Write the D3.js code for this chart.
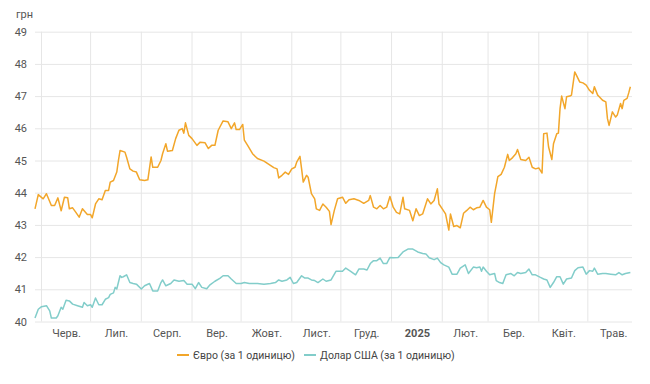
<!DOCTYPE html>
<html><head><meta charset="utf-8">
<script src="https://cdn.jsdelivr.net/npm/d3@7"></script>
<style>body{margin:0;background:#fff;} text{font-family:Roboto, "Noto Sans", sans-serif;}</style>
</head><body><svg id="c" width="650" height="384"></svg>
<script>
// ---- data ----
const startDate = "2024-05-28";
const endDate = "2025-05-28";
const unitLabel = "грн";
const monthLabels = ["Черв.","Лип.","Серп.","Вер.","Жовт.","Лист.","Груд.","2025","Лют.","Бер.","Квіт.","Трав."];
const yTicks = [40,41,42,43,44,45,46,47,48,49];
const seriesNames = ["Євро (за 1 одиницю)", "Долар США (за 1 одиницю)"];

// days since startDate
const euroDays = [0,2,5,7,10,12,14,16,18,20,21,23,25,27,29,32,34,35,37,39,41,43,45,46,48,50,51,52,55,56,58,60,62,64,67,69,71,72,75,77,78,80,81,84,86,88,90,91,92,94,96,99,101,104,106,108,110,112,115,118,120,122,123,125,127,128,130,133,136,140,143,146,148,149,151,153,155,157,159,160,162,163,164,166,167,169,171,172,174,176,178,180,181,183,185,188,190,192,195,198,201,204,205,207,209,211,213,215,217,219,221,223,225,226,229,231,233,235,237,240,242,244,246,247,249,251,253,254,256,258,260,262,264,266,268,270,272,274,276,278,279,281,283,285,287,289,290,292,294,295,297,300,302,304,306,308,310,311,313,314,316,317,319,320,321,322,324,325,327,328,330,331,333,335,337,339,341,342,344,345,347,349,350,351,353,355,356,358,359,360,362,363,364];
const euroValues = [43.50,43.94,43.81,43.97,43.60,43.60,43.84,43.44,43.86,43.84,43.50,43.53,43.39,43.24,43.50,43.32,43.32,43.22,43.65,43.81,43.78,44.07,44.07,44.33,44.38,44.64,45.00,45.31,45.26,45.10,44.74,44.67,44.64,44.40,44.38,44.40,45.11,44.79,44.79,45.00,45.21,45.52,45.29,45.31,45.68,45.94,45.99,45.85,46.17,45.78,45.68,45.47,45.57,45.55,45.37,45.47,45.47,45.94,46.23,46.20,45.99,46.17,45.96,45.96,46.12,45.63,45.47,45.21,45.06,44.98,44.88,44.78,44.74,44.46,44.54,44.64,44.57,44.74,44.79,44.95,45.13,44.74,44.33,44.54,44.48,43.97,43.81,43.50,43.45,43.65,43.55,43.42,43.01,43.45,43.81,43.86,43.67,43.78,43.81,43.76,43.67,43.76,43.91,43.55,43.50,43.60,43.50,43.55,43.88,43.55,43.39,43.34,43.86,43.50,43.45,43.13,43.50,43.29,43.34,43.81,43.65,43.76,44.12,43.65,43.50,43.34,42.84,43.34,42.95,42.98,42.91,43.36,43.45,43.55,43.47,43.53,43.55,43.76,43.55,43.47,43.08,43.97,44.50,44.57,44.79,45.19,45.00,45.09,45.21,45.34,45.03,45.00,45.10,44.79,44.74,44.77,44.61,45.83,45.85,45.42,45.03,45.52,45.83,45.85,46.61,47.00,46.61,46.98,47.00,47.03,47.75,47.65,47.44,47.41,47.34,47.18,47.08,47.29,47.03,46.98,46.87,46.82,46.30,46.09,46.51,46.35,46.41,46.77,46.61,46.87,46.93,47.10,47.29];

const usdDays = [0,2,4,7,9,10,13,14,16,17,19,21,23,26,29,30,32,34,35,37,39,41,43,45,46,48,49,50,52,53,54,56,58,60,62,65,67,70,72,75,77,78,80,83,85,88,91,93,96,98,100,102,105,107,110,113,115,118,120,123,126,128,131,136,140,144,147,149,151,154,156,158,160,163,165,167,169,171,173,176,178,181,184,186,188,190,193,196,198,201,203,205,207,209,211,213,215,217,219,222,225,228,231,234,237,239,241,244,246,248,250,253,255,258,260,263,265,268,270,272,273,274,276,278,281,282,284,286,288,291,293,295,297,300,302,304,306,309,311,313,315,317,319,321,323,325,328,330,332,335,337,339,341,342,344,347,349,352,355,357,359,361,364];
const usdValues = [40.11,40.38,40.46,40.49,40.33,40.11,40.11,40.18,40.44,40.38,40.66,40.64,40.54,40.49,40.44,40.59,40.49,40.52,40.44,40.73,40.52,40.52,40.69,40.74,40.84,40.89,41.06,41.01,41.42,41.37,41.39,41.45,41.21,41.18,41.16,41.01,41.11,41.18,40.95,40.95,41.21,41.29,41.11,41.18,41.29,41.25,41.27,41.16,41.16,41.02,41.21,41.06,41.02,41.14,41.25,41.34,41.42,41.42,41.32,41.18,41.18,41.21,41.18,41.18,41.16,41.18,41.21,41.29,41.25,41.29,41.37,41.18,41.21,41.42,41.35,41.35,41.29,41.27,41.21,41.32,41.25,41.29,41.56,41.56,41.56,41.66,41.56,41.45,41.63,41.63,41.60,41.80,41.89,41.89,41.97,41.80,41.80,41.99,41.98,41.99,42.16,42.25,42.25,42.16,42.11,42.10,41.98,41.92,41.97,41.83,41.76,41.69,41.47,41.47,41.66,41.76,41.49,41.69,41.67,41.69,41.56,41.69,41.56,41.45,41.49,41.27,41.21,41.18,41.45,41.49,41.42,41.52,41.49,41.52,41.63,41.45,41.45,41.37,41.32,41.29,41.06,41.21,41.39,41.39,41.16,41.32,41.35,41.58,41.67,41.69,41.47,41.58,41.56,41.66,41.47,41.49,41.49,41.47,41.45,41.52,41.45,41.49,41.52];

// ---- chart ----
const colors = ["#f2a62a", "#82cdca"];
const svg = d3.select("#c");
const mLeft = 35, mRight = 632, mTop = 31.7, mBottom = 321.5;
const parse = d3.utcParse("%Y-%m-%d");
const t0 = parse(startDate), t1 = parse(endDate);
const x = d3.scaleUtc().domain([t0, t1]).range([mLeft, mRight]);
const y = d3.scaleLinear().domain([40, 49]).range([mBottom, mTop]);

const monthStarts = d3.utcMonth.range(d3.utcMonth.ceil(t0), t1);
const monthMids = monthStarts.map(m => new Date((+m + +d3.utcMonth.offset(m, 1)) / 2));

// horizontal grid + y labels
const ya = svg.append("g").attr("transform", `translate(${mLeft},0)`)
  .call(d3.axisLeft(y).tickValues(yTicks).tickSize(-(mRight-mLeft)).tickPadding(8).tickFormat(d3.format("d")));
ya.select(".domain").remove();
ya.selectAll(".tick line").attr("stroke", "#e6e6e6");
ya.selectAll(".tick text").attr("fill", "#555").style("font-size", "11px");

// vertical grid
svg.append("g").selectAll("line").data(monthStarts).join("line")
  .attr("x1", d => x(d)).attr("x2", d => x(d)).attr("y1", mTop).attr("y2", mBottom)
  .attr("stroke", "#e6e6e6");

// x labels
const xa = svg.append("g").attr("transform", `translate(0,${mBottom})`)
  .call(d3.axisBottom(x).tickValues(monthMids).tickSize(0).tickPadding(8).tickFormat((d,i) => monthLabels[i]));
xa.select(".domain").remove();
xa.selectAll(".tick text").attr("fill", "#555").style("font-size", "11px")
  .style("font-weight", (d,i) => monthLabels[i] === "2025" ? "bold" : "normal");

// unit label
svg.append("text").attr("x", 16).attr("y", 18).attr("fill", "#555").style("font-size", "11px").text(unitLabel);

// lines
const mk = (days, vals) => days.map((d,i) => ({t: d3.utcDay.offset(t0, d), v: vals[i]}));
const series = [mk(euroDays, euroValues), mk(usdDays, usdValues)];
const line = d3.line().x(d => x(d.t)).y(d => y(d.v));
series.forEach((s, i) => {
  svg.append("path").datum(s).attr("d", line).attr("fill", "none")
    .attr("stroke", colors[i]).attr("stroke-width", 1.5).attr("stroke-linejoin", "round");
});

// legend
const legX = [177, 304];
seriesNames.forEach((n, i) => {
  svg.append("line").attr("x1", legX[i]).attr("x2", legX[i] + 12).attr("y1", 355).attr("y2", 355)
    .attr("stroke", colors[i]).attr("stroke-width", 2);
  svg.append("text").attr("x", legX[i] + 16).attr("y", 359).attr("fill", "#444")
    .style("font-size", "10.5px").text(n);
});
</script></body></html>
